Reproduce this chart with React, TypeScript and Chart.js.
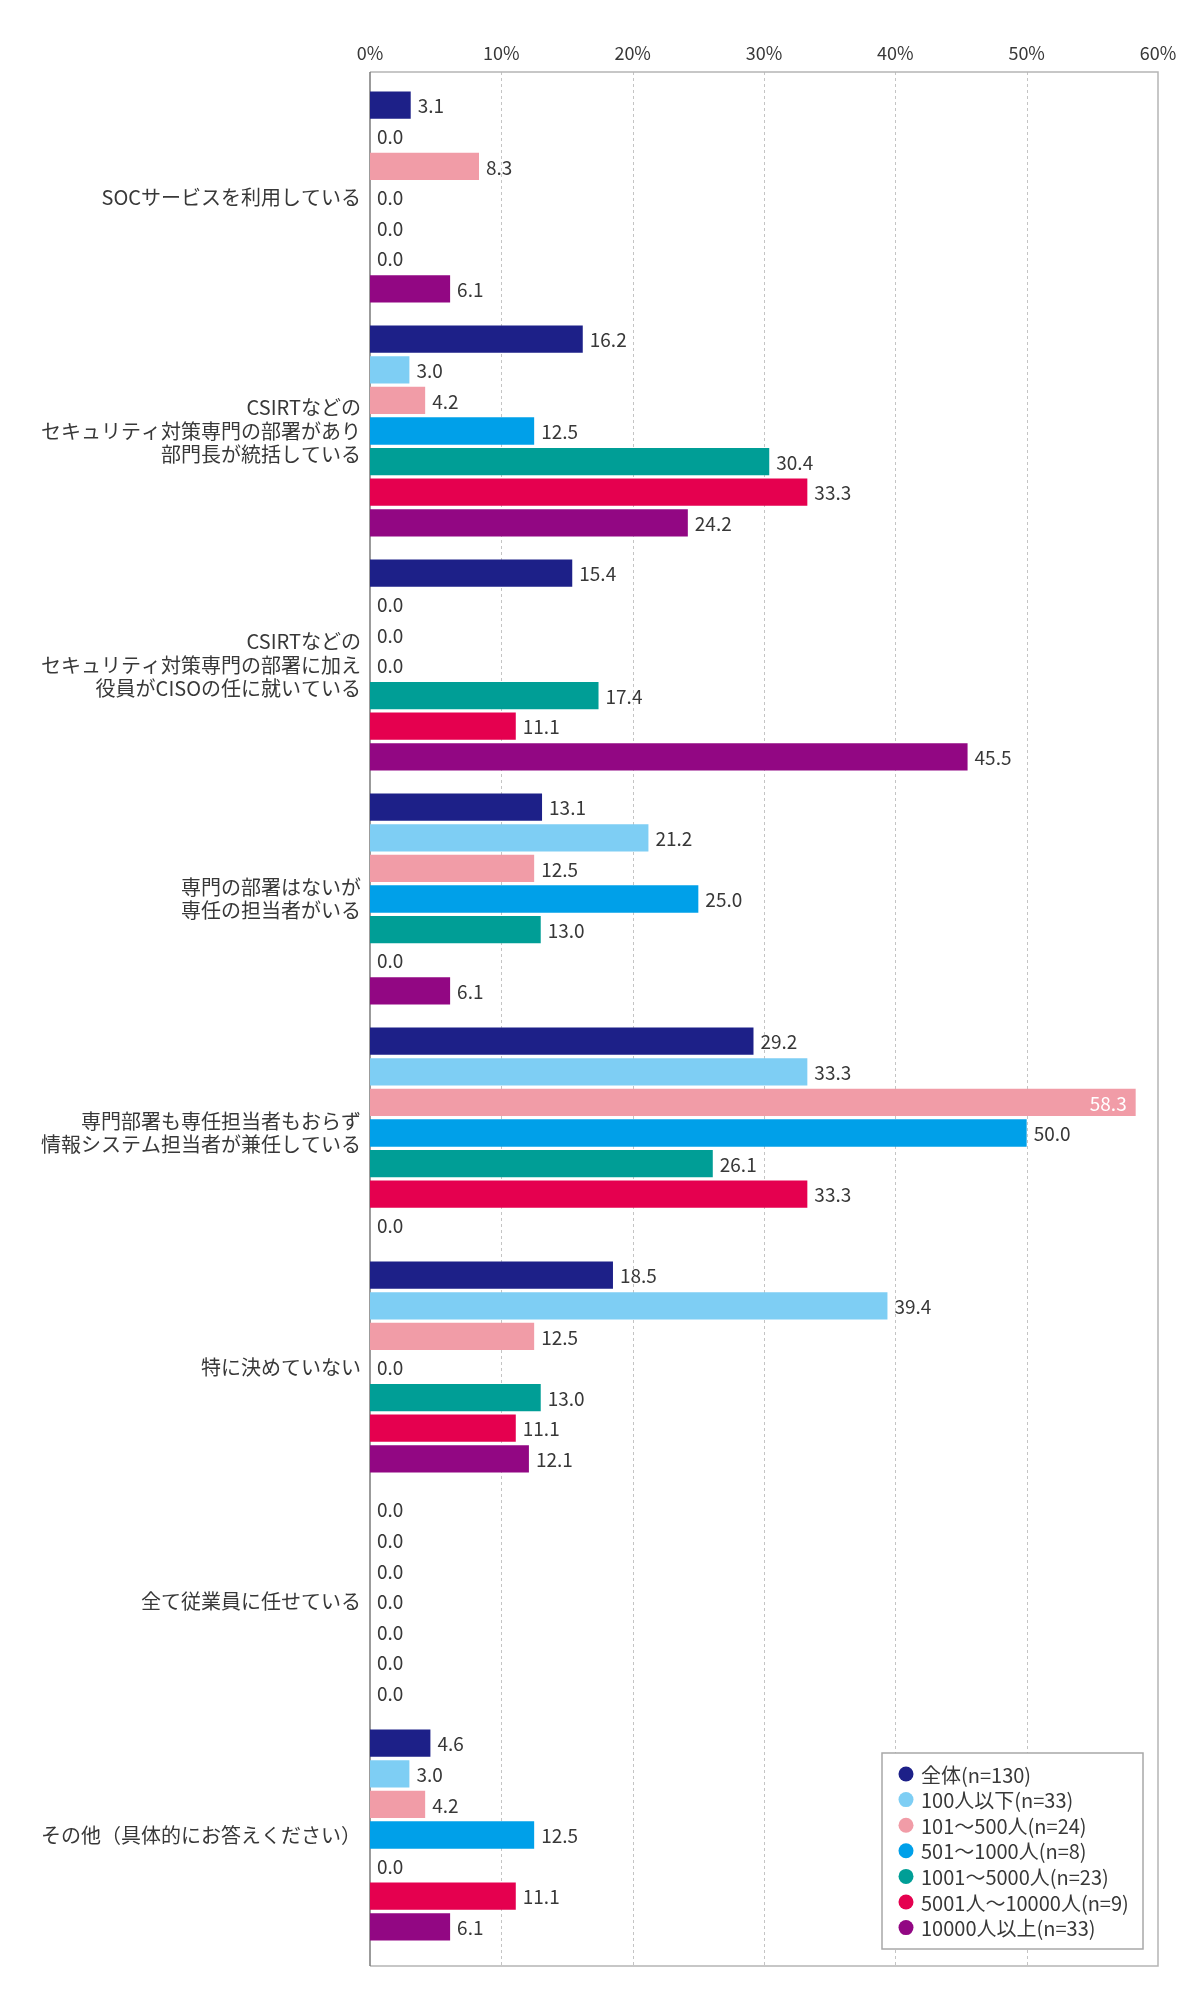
import { useEffect, useRef } from 'react';
import { Chart, registerables } from 'chart.js';

Chart.register(...registerables);

// categories (y axis, top to bottom)
const categories: (string | string[])[] = [
  'SOCサービスを利用している',
  ['CSIRTなどの', 'セキュリティ対策専門の部署があり', '部門長が統括している'],
  ['CSIRTなどの', 'セキュリティ対策専門の部署に加え', '役員がCISOの任に就いている'],
  ['専門の部署はないが', '専任の担当者がいる'],
  ['専門部署も専任担当者もおらず', '情報システム担当者が兼任している'],
  '特に決めていない',
  '全て従業員に任せている',
  'その他（具体的にお答えください）',
];

const seriesNames = [
  '全体(n=130)',
  '100人以下(n=33)',
  '101〜500人(n=24)',
  '501〜1000人(n=8)',
  '1001〜5000人(n=23)',
  '5001人〜10000人(n=9)',
  '10000人以上(n=33)',
];

const seriesColors = ['#1d2088', '#7ecef4', '#f19ca7', '#00a0e9', '#009e96', '#e5004f', '#920783'];

// values in % per series, one per category
const totalAll = [3.1, 16.2, 15.4, 13.1, 29.2, 18.5, 0.0, 4.6];
const upTo100 = [0.0, 3.0, 0.0, 21.2, 33.3, 39.4, 0.0, 3.0];
const from101to500 = [8.3, 4.2, 0.0, 12.5, 58.3, 12.5, 0.0, 4.2];
const from501to1000 = [0.0, 12.5, 0.0, 25.0, 50.0, 0.0, 0.0, 12.5];
const from1001to5000 = [0.0, 30.4, 17.4, 13.0, 26.1, 13.0, 0.0, 0.0];
const from5001to10000 = [0.0, 33.3, 11.1, 0.0, 33.3, 11.1, 0.0, 11.1];
const over10000 = [6.1, 24.2, 45.5, 6.1, 0.0, 12.1, 0.0, 6.1];

const seriesValues = [totalAll, upTo100, from101to500, from501to1000, from1001to5000, from5001to10000, over10000];

const xTicks = [0, 10, 20, 30, 40, 50, 60];

const FONT = '"Noto Sans CJK JP", "Noto Sans", sans-serif';
const TEXT_COLOR = '#383838';
const FRAME_TOP_EXTRA = 8;
const FRAME_BOTTOM_EXTRA = 14;

// frame, dashed grid lines and the left axis line
const framePlugin = {
  id: 'frame',
  beforeDatasetsDraw(chart: any) {
    const { ctx, chartArea } = chart;
    const xs = chart.scales.x;
    const top = chartArea.top - FRAME_TOP_EXTRA;
    const bottom = chartArea.bottom + FRAME_BOTTOM_EXTRA;
    ctx.save();
    ctx.strokeStyle = '#c4c4c4';
    ctx.lineWidth = 1;
    ctx.setLineDash([3, 3]);
    xTicks.slice(1, -1).forEach(v => {
      const x = Math.round(xs.getPixelForValue(v)) + 0.5;
      ctx.beginPath();
      ctx.moveTo(x, top);
      ctx.lineTo(x, bottom);
      ctx.stroke();
    });
    ctx.setLineDash([]);
    ctx.strokeStyle = '#b5b5b5';
    ctx.lineWidth = 1.5;
    ctx.beginPath();
    ctx.moveTo(chartArea.left, top);
    ctx.lineTo(chartArea.right, top);
    ctx.lineTo(chartArea.right, bottom);
    ctx.lineTo(chartArea.left, bottom);
    ctx.stroke();
    ctx.strokeStyle = '#7a7a7a';
    ctx.lineWidth = 1.5;
    ctx.beginPath();
    ctx.moveTo(chartArea.left, top);
    ctx.lineTo(chartArea.left, bottom);
    ctx.stroke();
    ctx.restore();
  },
};

// value labels next to each bar
const valueLabelPlugin = {
  id: 'valueLabels',
  afterDatasetsDraw(chart: any) {
    const { ctx, chartArea } = chart;
    ctx.save();
    ctx.font = `19px ${FONT}`;
    ctx.textBaseline = 'middle';
    chart.data.datasets.forEach((ds: any, di: number) => {
      const meta = chart.getDatasetMeta(di);
      meta.data.forEach((bar: any, i: number) => {
        const v = ds.data[i] as number;
        const text = v.toFixed(1);
        const w = ctx.measureText(text).width;
        if (bar.x + 7 + w > chartArea.right) {
          ctx.fillStyle = '#ffffff';
          ctx.textAlign = 'right';
          ctx.fillText(text, bar.x - 9, bar.y + 1);
        } else {
          ctx.fillStyle = TEXT_COLOR;
          ctx.textAlign = 'left';
          ctx.fillText(text, bar.x + 7, bar.y + 1);
        }
      });
    });
    ctx.restore();
  },
};

// legend box in the lower right of the plot
const legendPlugin = {
  id: 'boxLegend',
  afterDraw(chart: any) {
    const { ctx, chartArea } = chart;
    const boxW = 261;
    const boxH = 196;
    const right = chartArea.right - 15;
    const bottom = chartArea.bottom + FRAME_BOTTOM_EXTRA - 17;
    const left = right - boxW;
    const top = bottom - boxH;
    ctx.save();
    ctx.fillStyle = '#ffffff';
    ctx.fillRect(left, top, boxW, boxH);
    ctx.strokeStyle = '#a8a8a8';
    ctx.lineWidth = 1.5;
    ctx.strokeRect(left, top, boxW, boxH);
    ctx.font = `20px ${FONT}`;
    ctx.textBaseline = 'middle';
    ctx.textAlign = 'left';
    chart.data.datasets.forEach((ds: any, i: number) => {
      const y = top + 21 + i * 25.6;
      ctx.fillStyle = ds.backgroundColor;
      ctx.beginPath();
      ctx.arc(left + 24, y, 7.5, 0, Math.PI * 2);
      ctx.fill();
      ctx.fillStyle = TEXT_COLOR;
      ctx.fillText(ds.label, left + 39, y + 1);
    });
    ctx.restore();
  },
};

export default function App() {
  const canvasRef = useRef<HTMLCanvasElement>(null);
  const chartRef = useRef<Chart | null>(null);

  useEffect(() => {
    document.body.style.margin = '0';
    if (!canvasRef.current) return;
    if (chartRef.current) {
      chartRef.current.destroy();
      chartRef.current = null;
    }

    chartRef.current = new Chart(canvasRef.current, {
      type: 'bar',
      data: {
        labels: categories,
        datasets: seriesNames.map((name, i) => ({
          label: name,
          data: seriesValues[i],
          backgroundColor: seriesColors[i],
          borderWidth: 0,
          categoryPercentage: 0.916,
          barPercentage: 0.89,
        })),
      },
      options: {
        indexAxis: 'y',
        animation: false,
        responsive: true,
        maintainAspectRatio: false,
        layout: { padding: { top: 0, left: 0, right: 42, bottom: 48 } },
        plugins: {
          legend: { display: false },
          tooltip: { enabled: false },
        },
        scales: {
          x: {
            position: 'top',
            min: 0,
            max: 60,
            afterFit: (scale: any) => {
              scale.height = 80;
            },
            ticks: {
              stepSize: 10,
              padding: 16,
              color: TEXT_COLOR,
              font: { family: FONT, size: 18 },
              callback: (v: any) => `${v}%`,
            },
            grid: { display: false, drawTicks: false },
            border: { display: false },
          },
          y: {
            afterFit: (scale: any) => {
              scale.width = 370;
            },
            ticks: {
              padding: 9,
              color: TEXT_COLOR,
              font: { family: FONT, size: 20, lineHeight: 1.18 },
            },
            grid: { display: false, drawTicks: false },
            border: { display: false },
          },
        },
      },
      plugins: [framePlugin, valueLabelPlugin, legendPlugin],
    });

    return () => {
      chartRef.current?.destroy();
      chartRef.current = null;
    };
  }, []);

  return (
    <div style={{ width: 1200, height: 2000, position: 'relative', background: '#ffffff' }}>
      <canvas ref={canvasRef} />
    </div>
  );
}
